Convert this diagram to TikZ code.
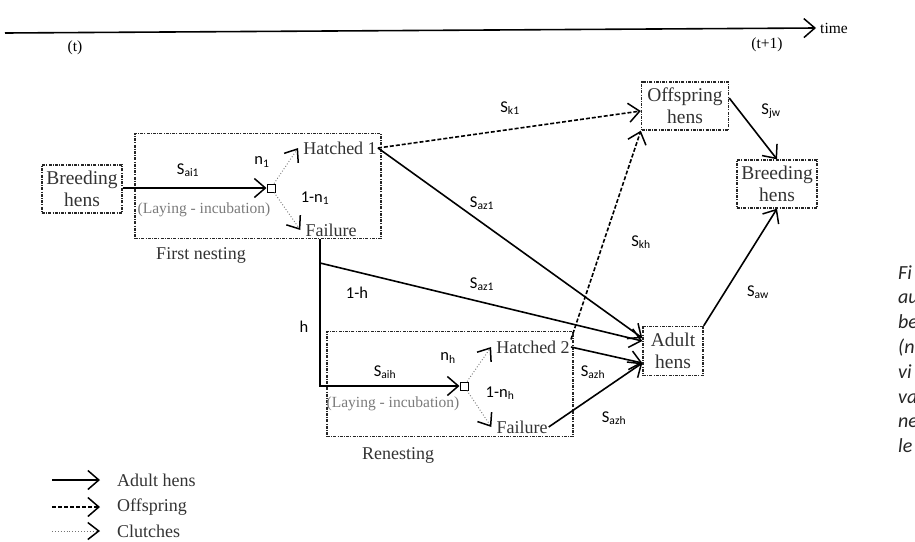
\documentclass[tikz,border=0pt]{standalone}
\usepackage{fontspec}
\setmainfont{Liberation Serif}
\newfontfamily\lblfont{Carlito}
\usepackage{xcolor}
\definecolor{inkgrey}{HTML}{333333}
\definecolor{laygrey}{HTML}{7A7A7A}
\usetikzlibrary{arrows.meta, positioning, calc}

\begin{document}
\begin{tikzpicture}[x=1pt, y=-1pt,
    barb/.tip={Straight Barb[length=11pt, width=19pt, line width=1.5pt]},
    adult/.style={line width=1.6pt, -barb},
    offspring/.style={adult, dash pattern=on 4pt off 2pt},
    clutch/.style={line width=0.9pt, black!55, dotted,
                   -{Straight Barb[length=11pt, width=17pt, line width=1.5pt, color=black]}},
    stagebox/.style={draw=black!85, line width=1.4pt,
                     dash pattern=on 3pt off 1.2pt on 1pt off 1.2pt},
    stage/.style={font=\fontsize{18}{22}\selectfont, text=inkgrey,
                  align=center, inner sep=1pt},
    henbox/.style={stagebox, stage, font=\fontsize{19.5}{22}\selectfont},
    laying/.style={font=\fontsize{15.5}{18}\selectfont, text=laygrey, inner sep=1pt},
    rate/.style={font=\lblfont\fontsize{16.5}{18}\selectfont, inner sep=0pt},
    tick/.style={font=\fontsize{15.5}{18}\selectfont, inner sep=0pt},
    caption/.style={font=\lblfont\itshape\fontsize{20}{24}\selectfont,
                    text=black!85, inner sep=0pt, anchor=base west}]

    \useasboundingbox (0,0) rectangle (915,541);

    % --- time axis
    \coordinate (tstart) at (5,33);
    \node[tick, anchor=west] (time) at (820,28) {time};
    \node[tick] (tnow) at (75,48) {(t)};
    \node[tick] (tnext) at (767,45) {(t+1)};
    \draw[adult] (tstart) -- ([xshift=-4pt]time.west);

    % --- first nesting
    \node[henbox, minimum width=80pt, minimum height=48pt] (bh1) at (82,189) {Breeding\\hens};
    \node[stagebox, minimum width=246pt, minimum height=105pt] (nest1) at (258,186) {};
    \node[stage] (nest1lbl) at (201,255) {First nesting};
    \node[laying] (lay1) at (204,210) {(Laying - incubation)};
    \node[draw, line width=1pt, minimum size=8pt, inner sep=0pt, fill=white] (sq1) at (271,188) {};
    \node[stage] (hat1) at (340,148) {Hatched 1};
    \node[stage] (fail1) at (331,230) {Failure};

    \draw[adult] (bh1.east |- sq1) -- (sq1.west);
    \draw[clutch] (sq1) -- ([xshift=-4pt]hat1.west);
    \draw[clutch] (sq1) -- ([xshift=-4pt]fail1.west);

    % --- renesting
    \node[stagebox, minimum width=246pt, minimum height=105pt] (nest2) at (450,384) {};
    \node[stage] (nest2lbl) at (398,455) {Renesting};
    \node[laying] (lay2) at (393,404) {(Laying - incubation)};
    \node[draw, line width=1pt, minimum size=8pt, inner sep=0pt, fill=white] (sq2) at (464,386) {};
    \node[stage] (hat2) at (533,347) {Hatched 2};
    \node[stage] (fail2) at (522,427) {Failure};

    \draw[clutch] (sq2) -- ([xshift=-4pt]hat2.west);
    \draw[clutch] (sq2) -- ([xshift=-4pt]fail2.west);

    % --- hens at (t+1)
    \node[henbox, minimum width=87pt, minimum height=48pt] (off) at (685,106) {Offspring\\hens};
    \node[henbox, minimum width=80pt, minimum height=48pt] (bh2) at (777,184) {Breeding\\hens};
    \node[henbox, minimum width=60pt, minimum height=49pt] (adult) at (673,351) {Adult\\hens};

    \coordinate (split) at (320,263);
    \coordinate (adin1) at ($(adult.west)+(0,-13)$);
    \coordinate (adin2) at ($(adult.west)+(0,-10)$);
    \coordinate (adin3) at ($(adult.west)+(0,12)$);

    \draw[offspring] (hat1.east) -- ($(off.west)+(0,5)$);
    \draw[adult] (hat1.east) -- (adin1);
    \draw[adult] (nest1.south -| split) |- (sq2.west);
    \draw[adult] (split) -- (adin2);
    \draw[adult] (hat2.east) -- (adin3);
    \draw[adult] (fail2.east) -- (adin3);
    \draw[offspring] (hat2.north east) -- (off.south west);
    \draw[adult] ($(off.east)+(0,-8)$) -- (bh2.north);
    \draw[adult] (adult.north east) -- (bh2.south);

    % --- transition labels
    \node[rate] (sai1) at (188,170) {S\textsubscript{ai1}};
    \node[rate] (n1) at (262,162) {n\textsubscript{1}};
    \node[rate] (nn1) at (315,198) {1-n\textsubscript{1}};
    \node[rate] (sk1) at (510,108) {S\textsubscript{k1}};
    \node[rate] (saz1) at (482,203) {S\textsubscript{az1}};
    \node[rate] (saz1b) at (482,284) {S\textsubscript{az1}};
    \node[rate] (sjw) at (771,111) {S\textsubscript{jw}};
    \node[rate] (skh) at (641,242) {S\textsubscript{kh}};
    \node[rate] (saw) at (758,292) {S\textsubscript{aw}};
    \node[rate] (nh1) at (357,293) {1-h};
    \node[rate] (hh) at (304,327) {h};
    \node[rate] (saih) at (385,372) {S\textsubscript{aih}};
    \node[rate] (nh) at (448,358) {n\textsubscript{h}};
    \node[rate] (nnh) at (500,393) {1-n\textsubscript{h}};
    \node[rate] (sazh) at (593,372) {S\textsubscript{azh}};
    \node[rate] (sazhb) at (614,418) {S\textsubscript{azh}};

    % --- legend
    \node[stage, anchor=west] (legad) at (116,480) {Adult hens};
    \node[stage, anchor=west] (legoff) at (116,507) {Offspring};
    \node[stage, anchor=west] (legcl) at (116,531) {Clutches};
    \coordinate (legad0) at (52,480);
    \coordinate (legoff0) at (52,507);
    \coordinate (legcl0) at (52,531);
    \draw[adult] (legad0) -- ([xshift=-16pt]legad.west);
    \draw[offspring] (legoff0) -- ([xshift=-16pt]legoff.west);
    \draw[clutch] (legcl0) -- ([xshift=-16pt]legcl.west);

    % --- caption cut off at the right edge
    \foreach \frag [count=\i from 0] in {Fi, au, be, {(n}, vi, va, ne, le}
        \node[caption] (cap\i) at (898, 279+24.8*\i) {\frag};
\end{tikzpicture}
\end{document}
